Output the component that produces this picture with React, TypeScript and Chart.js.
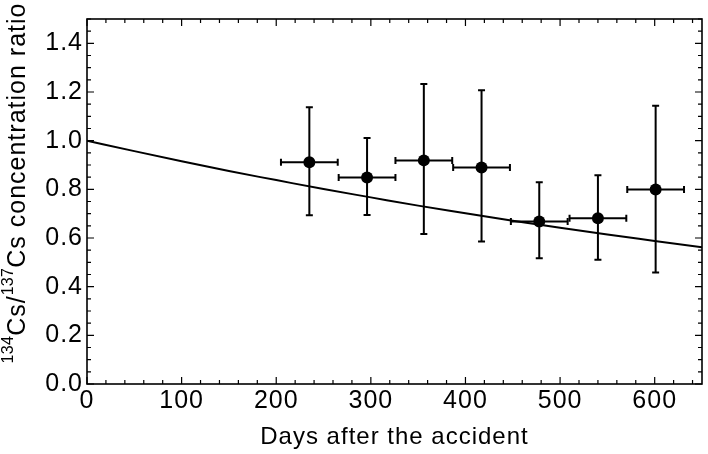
import { useEffect, useRef } from "react";
import { Chart, registerables } from "chart.js";

Chart.register(...registerables);

// Measured points
const days = [235, 296, 356, 417, 478, 540, 601];
const ratio = [0.911, 0.849, 0.919, 0.89, 0.668, 0.681, 0.799];
const dayErr = [30, 30, 30, 30, 30, 30, 30];
const ratioLow = [0.694, 0.695, 0.616, 0.586, 0.517, 0.511, 0.458];
const ratioHigh = [1.137, 1.011, 1.233, 1.207, 0.829, 0.858, 1.144];

// Decay curve
const fitDays = [0, 50, 100, 150, 200, 250, 300, 350, 400, 450, 500, 550, 600, 650];
const fitRatio = [1.0, 0.957, 0.915, 0.875, 0.838, 0.801, 0.767, 0.733, 0.702, 0.671, 0.642, 0.614, 0.588, 0.562];

// Axis ticks
const xTicks = [0, 100, 200, 300, 400, 500, 600];
const yTicks = [0, 0.2, 0.4, 0.6, 0.8, 1.0, 1.2, 1.4];
const xMinorStep = 20;
const yMinorStep = 0.05;

const xTitle = "Days after the accident";
const yTitleParts = [
  { t: "134", sup: true },
  { t: "Cs/", sup: false },
  { t: "137", sup: true },
  { t: "Cs concentration ratio", sup: false },
];

const FONT = "'Liberation Sans', Arial, Helvetica, sans-serif";

export default function App() {
  const ref = useRef<HTMLCanvasElement>(null);

  useEffect(() => {
    document.body.style.margin = "0";
    const canvas = ref.current!;

    const spacingPlugin = {
      id: "spacing",
      beforeDraw(chart: any) {
        (chart.ctx as any).letterSpacing = "1px";
      },
      afterDraw(chart: any) {
        (chart.ctx as any).letterSpacing = "0px";
      },
    };

    const errorBars = {
      id: "errorBars",
      afterDatasetsDraw(chart: any) {
        const ctx = chart.ctx;
        const xs = chart.scales.x;
        const ys = chart.scales.y;
        ctx.save();
        ctx.strokeStyle = "#000";
        ctx.lineWidth = 2;
        const cap = 3.5;
        for (let i = 0; i < days.length; i++) {
          const x = xs.getPixelForValue(days[i]);
          const y = ys.getPixelForValue(ratio[i]);
          const x1 = xs.getPixelForValue(days[i] - dayErr[i]);
          const x2 = xs.getPixelForValue(days[i] + dayErr[i]);
          const y1 = ys.getPixelForValue(ratioLow[i]);
          const y2 = ys.getPixelForValue(ratioHigh[i]);
          ctx.beginPath();
          ctx.moveTo(x, y1);
          ctx.lineTo(x, y2);
          ctx.moveTo(x - cap, y1);
          ctx.lineTo(x + cap, y1);
          ctx.moveTo(x - cap, y2);
          ctx.lineTo(x + cap, y2);
          ctx.moveTo(x1, y);
          ctx.lineTo(x2, y);
          ctx.moveTo(x1, y - cap);
          ctx.lineTo(x1, y + cap);
          ctx.moveTo(x2, y - cap);
          ctx.lineTo(x2, y + cap);
          ctx.stroke();
        }
        ctx.restore();
      },
    };

    const framePlugin = {
      id: "frame",
      afterDraw(chart: any) {
        const ctx = chart.ctx;
        const a = chart.chartArea;
        const xs = chart.scales.x;
        const ys = chart.scales.y;
        ctx.save();
        ctx.strokeStyle = "#000";
        ctx.lineWidth = 1.2;
        ctx.beginPath();
        const major = 7;
        const minor = 4;
        for (let v = 0; v <= 650 + 1e-9; v += xMinorStep) {
          const isMajor = Math.abs(v % 100) < 1e-6;
          const len = isMajor ? major : minor;
          const px = xs.getPixelForValue(v);
          ctx.moveTo(px, a.bottom);
          ctx.lineTo(px, a.bottom - len);
          ctx.moveTo(px, a.top);
          ctx.lineTo(px, a.top + len);
        }
        for (let k = 0; k <= 30; k++) {
          const v = k * yMinorStep;
          const isMajor = k % 4 === 0;
          const len = isMajor ? major : minor;
          const py = ys.getPixelForValue(v);
          ctx.moveTo(a.left, py);
          ctx.lineTo(a.left + len, py);
          ctx.moveTo(a.right, py);
          ctx.lineTo(a.right - len, py);
        }
        ctx.stroke();
        ctx.lineWidth = 1.6;
        ctx.strokeRect(a.left, a.top, a.right - a.left, a.bottom - a.top);
        ctx.restore();

        // y axis title with superscripts
        ctx.save();
        ctx.fillStyle = "#000";
        ctx.textBaseline = "alphabetic";
        ctx.textAlign = "left";
        const mainSize = 25;
        const supSize = 16;
        const widths = yTitleParts.map((p) => {
          ctx.font = `${p.sup ? supSize : mainSize}px ${FONT}`;
          (ctx as any).letterSpacing = p.sup ? "0.3px" : "1px";
          return ctx.measureText(p.t).width;
        });
        const total = widths.reduce((s, w) => s + w, 0);
        ctx.translate(25, 183);
        ctx.rotate(-Math.PI / 2);
        let cx = -total / 2;
        yTitleParts.forEach((p, i) => {
          ctx.font = `${p.sup ? supSize : mainSize}px ${FONT}`;
          (ctx as any).letterSpacing = p.sup ? "0.3px" : "1px";
          ctx.fillText(p.t, cx, p.sup ? -12 : 0);
          cx += widths[i];
        });
        (ctx as any).letterSpacing = "0px";
        ctx.restore();
      },
    };

    const chart = new Chart(canvas, {
      data: {
        datasets: [
          {
            type: "line",
            data: fitDays.map((d, i) => ({ x: d, y: fitRatio[i] })),
            borderColor: "#000",
            borderWidth: 2,
            pointRadius: 0,
            cubicInterpolationMode: "monotone",
            fill: false,
          },
          {
            type: "scatter",
            data: days.map((d, i) => ({ x: d, y: ratio[i] })),
            backgroundColor: "#000",
            borderColor: "#000",
            borderWidth: 0,
            pointRadius: 6,
          },
        ],
      } as any,
      options: {
        responsive: false,
        animation: false,
        layout: { padding: { top: 3, right: 2, left: 0, bottom: 0 } },
        plugins: { legend: { display: false }, tooltip: { enabled: false } },
        scales: {
          x: {
            type: "linear",
            min: 0,
            max: 650,
            afterBuildTicks: (s: any) => {
              s.ticks = xTicks.map((v) => ({ value: v }));
            },
            afterFit: (s: any) => {
              s.height = 70;
            },
            grid: { display: false, drawTicks: false },
            border: { display: false },
            ticks: {
              color: "#000",
              font: { family: FONT, size: 25 },
              padding: 2,
              maxRotation: 0,
              autoSkip: false,
            },
            title: {
              display: true,
              text: xTitle,
              color: "#000",
              font: { family: FONT, size: 24 },
              padding: { top: 0, bottom: 2 },
            },
          },
          y: {
            type: "linear",
            min: 0,
            max: 1.5,
            afterBuildTicks: (s: any) => {
              s.ticks = yTicks.map((v) => ({ value: v }));
            },
            afterFit: (s: any) => {
              s.width = 87;
            },
            grid: { display: false, drawTicks: false },
            border: { display: false },
            ticks: {
              color: "#000",
              font: { family: FONT, size: 25 },
              padding: 4,
              autoSkip: false,
              callback: (v: any) => Number(v).toFixed(1),
            },
          },
        },
      } as any,
      plugins: [spacingPlugin, errorBars, framePlugin],
    });
    return () => chart.destroy();
  }, []);

  return (
    <div style={{ width: 708, height: 454 }}>
      <canvas ref={ref} width={708} height={454} style={{ display: "block" }} />
    </div>
  );
}
